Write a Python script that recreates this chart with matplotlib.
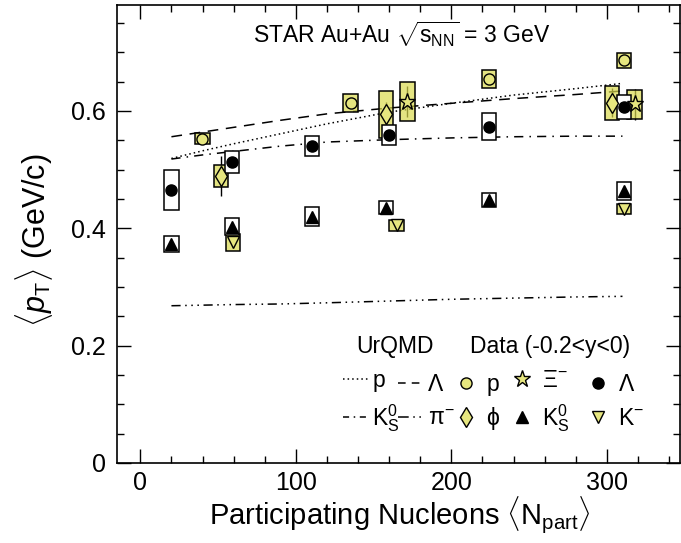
import matplotlib
matplotlib.use("Agg")
import matplotlib.pyplot as plt
from matplotlib.legend import Legend
from matplotlib.lines import Line2D
from matplotlib.ticker import MultipleLocator, FixedLocator

plt.rcParams["font.family"] = ["Liberation Sans", "DejaVu Sans"]
plt.rcParams["mathtext.fontset"] = "custom"
plt.rcParams["mathtext.rm"] = "Liberation Sans"
plt.rcParams["mathtext.it"] = "Liberation Sans:italic"
plt.rcParams["mathtext.bf"] = "Liberation Sans:bold"

# UrQMD curves
n_urqmd = [20, 40, 60, 90, 120, 160, 200, 240, 280, 310]
urqmd_p = [0.519, 0.532, 0.544, 0.561, 0.578, 0.598, 0.613, 0.627, 0.638, 0.647]
urqmd_lam = [0.556, 0.564, 0.572, 0.584, 0.595, 0.605, 0.613, 0.621, 0.628, 0.634]
urqmd_k0s = [0.518, 0.525, 0.531, 0.540, 0.547, 0.551, 0.554, 0.556, 0.557, 0.557]
urqmd_pi = [0.268, 0.269, 0.270, 0.271, 0.273, 0.276, 0.279, 0.281, 0.283, 0.284]

# data: value and systematic half-width (stat where visible)
n_lam = [20, 59, 110.5, 159.7, 224.3, 310.8]
lam = [0.466, 0.513, 0.541, 0.559, 0.573, 0.607]
lam_sys = [0.034, 0.019, 0.017, 0.017, 0.023, 0.020]

n_k0s = [20, 59, 110.5, 158.0, 224.3, 310.8]
k0s = [0.373, 0.403, 0.420, 0.435, 0.448, 0.464]
k0s_sys = [0.013, 0.014, 0.016, 0.011, 0.012, 0.015]

n_p = [39.9, 135.2, 224.3, 310.8]
prot = [0.553, 0.613, 0.654, 0.686]
prot_sys = [0.010, 0.015, 0.015, 0.012]

n_phi = [51.7, 157.9, 303.3]
phi = [0.489, 0.594, 0.614]
phi_sys = [0.018, 0.040, 0.029]
phi_stat = [0.034, 0.022, 0.025]

n_xi = [171.7, 317.8]
xi = [0.616, 0.611]
xi_sys = [0.033, 0.024]
xi_stat = [0.027, 0.027]

n_km = [59.4, 164.8, 310.8]
kminus = [0.376, 0.405, 0.433]
kminus_sys = [0.014, 0.009, 0.009]

x_ticks = [0, 100, 200, 300]
y_ticks = [0, 0.2, 0.4, 0.6]

W, H = 681, 543
YEL = "#e6e67f"
BOX_YEL = (0.85, 0.85, 0.30, 0.70)
BOX_W = 9.2

fig = plt.figure(figsize=(W / 100, H / 100), dpi=100)
ax = fig.add_axes([117 / W, 1 - 463 / H, (680 - 117) / W, (463 - 5.3) / H])
ax.set_xlim(-15, 347)
ax.set_ylim(0, 0.78)

# model curves
ax.plot(n_urqmd, urqmd_p, color="k", lw=1.1, ls=(0, (1, 2)), zorder=1)
ax.plot(n_urqmd, urqmd_lam, color="k", lw=1.1, ls=(0, (7, 5)), zorder=1)
ax.plot(n_urqmd, urqmd_k0s, color="k", lw=1.1, ls=(0, (6, 4, 1, 4)), zorder=1)
ax.plot(n_urqmd, urqmd_pi, color="k", lw=1.1, ls=(0, (6, 3, 1, 3, 1, 3, 1, 3)), zorder=1)

# stat errors (under the semi-transparent boxes)
ax.errorbar(n_phi, phi, yerr=phi_stat, fmt="none", ecolor="k", elinewidth=1.0, zorder=1.5)
ax.errorbar(n_xi, xi, yerr=xi_stat, fmt="none", ecolor="k", elinewidth=1.0, zorder=1.5)


def sys_boxes(n, v, s, face):
    lo = [a - b for a, b in zip(v, s)]
    ax.bar(n, [2 * b for b in s], bottom=lo, width=BOX_W, color=face,
           edgecolor="k", linewidth=1.1, zorder=2)


sys_boxes(n_p, prot, prot_sys, BOX_YEL)
sys_boxes(n_phi, phi, phi_sys, BOX_YEL)
sys_boxes(n_xi, xi, xi_sys, BOX_YEL)
sys_boxes(n_km, kminus, kminus_sys, BOX_YEL)
sys_boxes(n_lam, lam, lam_sys, "white")
sys_boxes(n_k0s, k0s, k0s_sys, "white")

mk = dict(ls="none", mec="k", mew=1.0, zorder=4)
ax.plot(n_p, prot, marker="o", ms=8, mfc=YEL, **mk)
ax.plot(n_phi, phi, marker="d", ms=10, mfc=YEL, **mk)
ax.plot(n_xi, xi, marker="*", ms=12.5, mfc=YEL, **mk)
ax.plot(n_km, kminus, marker="v", ms=9, mfc=YEL, **mk)
ax.plot(n_lam, lam, marker="o", ms=8, mfc="k", **mk)
ax.plot(n_k0s, k0s, marker="^", ms=8, mfc="k", **mk)

# axes styling
ax.xaxis.set_major_locator(FixedLocator(x_ticks))
ax.xaxis.set_minor_locator(MultipleLocator(20))
ax.yaxis.set_major_locator(FixedLocator(y_ticks))
ax.yaxis.set_minor_locator(MultipleLocator(0.05))
ax.set_xticklabels([f"{t}" for t in x_ticks])
ax.set_yticklabels(["0", "0.2", "0.4", "0.6"])
ax.tick_params(which="both", direction="in", top=True, right=True, width=1.0,
               labelsize=18)
ax.tick_params(which="major", length=10, pad=8)
ax.tick_params(axis="x", which="major", pad=6)
ax.tick_params(which="minor", length=5)
for sp in ax.spines.values():
    sp.set_linewidth(1.2)

fig.text(400 / W, 1 - 524 / H,
         r"Participating Nucleons $\langle\mathrm{N}_{\mathrm{part}}\rangle$",
         ha="center", va="baseline", fontsize=21)
fig.text(34 / W, 1 - 240 / H, r"$\langle p_{\mathrm{T}}\rangle$ (GeV/c)",
         ha="center", va="center", rotation=90, fontsize=22)

fig.text(401.5 / W, 1 - 34 / H, r"STAR Au+Au $\sqrt{\mathrm{s}_{\mathrm{NN}}}$ = 3 GeV",
         ha="center", va="center", fontsize=16.5)
fig.text(395.5 / W, 1 - 347 / H, "UrQMD", ha="center", va="center", fontsize=16.5)
fig.text(550 / W, 1 - 347 / H, "Data (-0.2<y<0)", ha="center", va="center",
         fontsize=16.5)

# legend, one block per column
k0s_lbl = r"$\mathrm{K}^{0}_{\mathrm{S}}$"
columns = [
    ([Line2D([], [], color="k", lw=1.1, ls=(0, (1, 2))),
      Line2D([], [], color="k", lw=1.1, ls=(0, (4, 3, 1, 3)))],
     ["p", k0s_lbl], 343, 1.1, 0.17),
    ([Line2D([], [], color="k", lw=1.1, ls=(0, (5, 4))),
      Line2D([], [], color="k", lw=1.1, ls=(0, (7, 3, 1, 3, 1, 3)))],
     ["Λ", r"π$^{-}$"], 398, 1.17, 0.13),
    ([Line2D([], [], marker="o", ms=8, mfc=YEL, **mk),
      Line2D([], [], marker="d", ms=10, mfc=YEL, **mk)],
     ["p", "ϕ"], 455, 1.0, 0.37),
    ([Line2D([], [], marker="*", ms=12.5, mfc=YEL, **mk),
      Line2D([], [], marker="^", ms=8, mfc="k", **mk)],
     [r"Ξ$^{-}$", k0s_lbl], 511, 1.0, 0.37),
    ([Line2D([], [], marker="o", ms=8, mfc="k", **mk),
      Line2D([], [], marker="v", ms=9, mfc=YEL, **mk)],
     ["Λ", r"K$^{-}$"], 587, 1.0, 0.37),
]
for handles, labels, x0, hl, pad in columns:
    leg = Legend(ax, handles, labels, loc="center left",
                 bbox_to_anchor=(x0 / W, 1 - 401.5 / H),
                 bbox_transform=fig.transFigure, frameon=False, fontsize=16.5,
                 handlelength=hl, handletextpad=pad, borderpad=0,
                 borderaxespad=0, labelspacing=0.45, handleheight=0.7)
    ax.add_artist(leg)

fig.savefig("out.png", dpi=100)
plt.close(fig)
